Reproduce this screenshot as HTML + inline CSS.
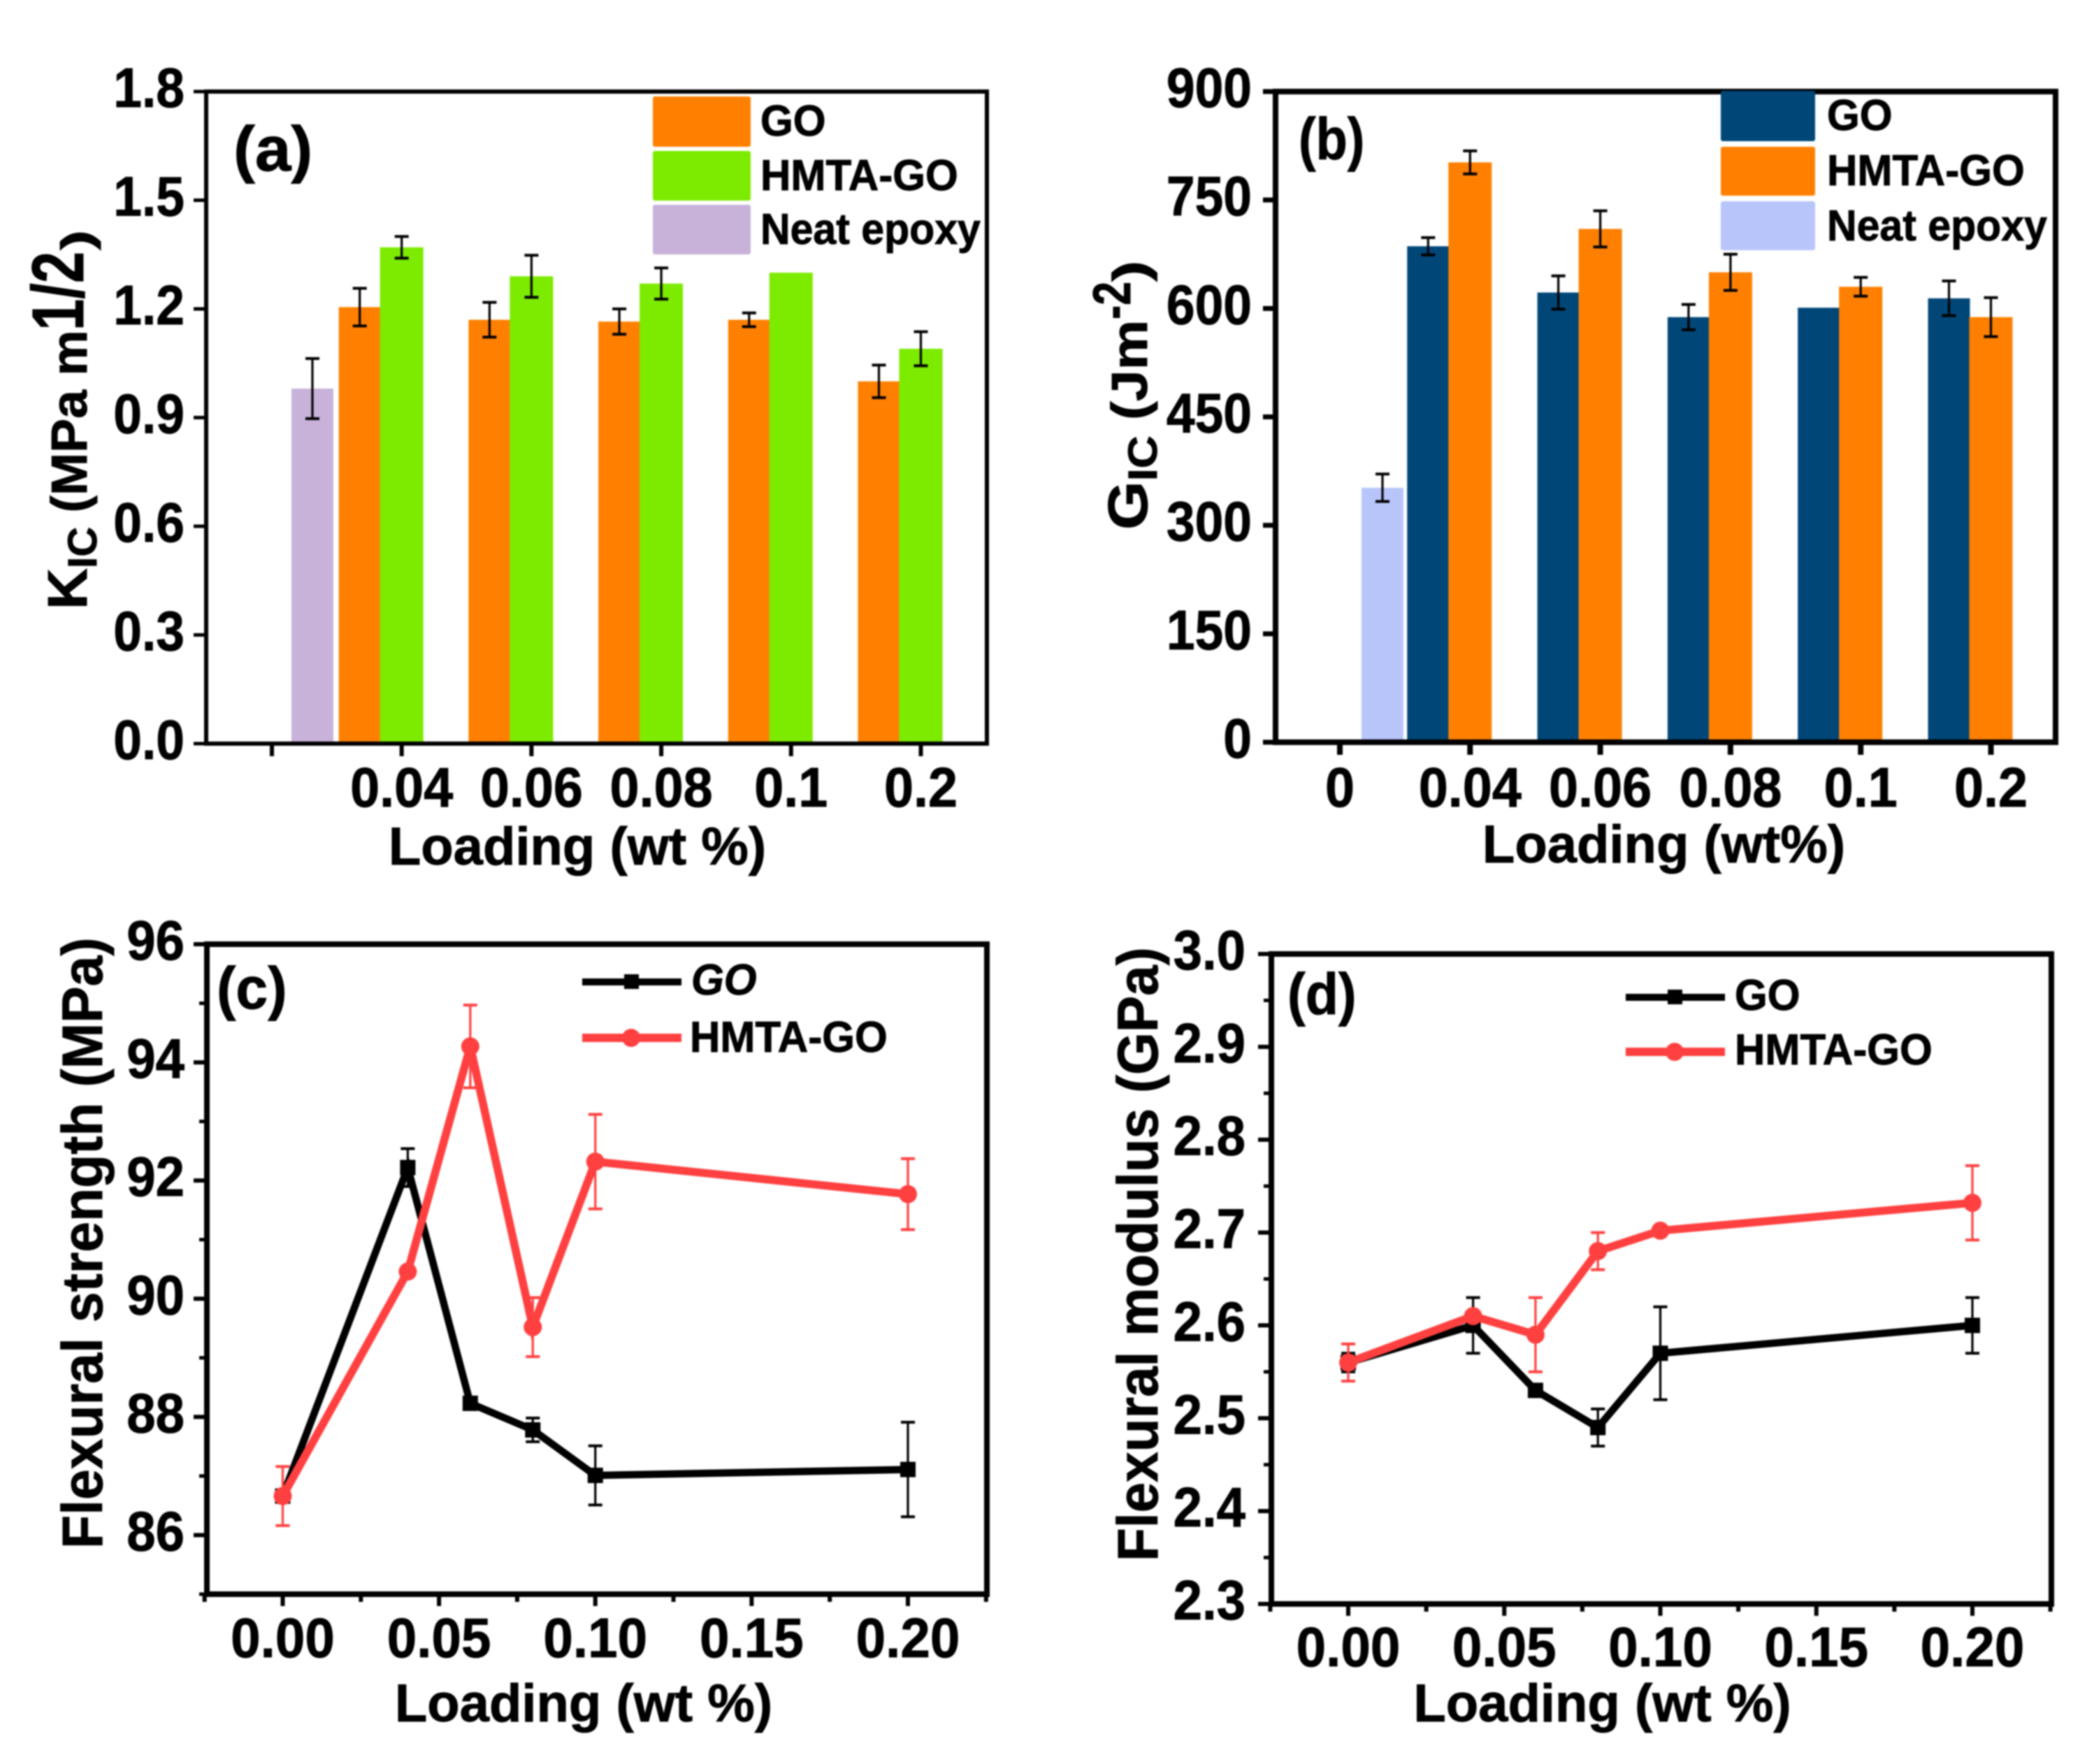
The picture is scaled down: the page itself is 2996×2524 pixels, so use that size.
<!DOCTYPE html>
<html lang="en">
<head>
<meta charset="utf-8">
<title>Fracture and flexural properties versus loading</title>
<style>
html,body{margin:0;padding:0;background:#fff;}
body{width:2996px;height:2524px;overflow:hidden;}
svg{display:block;filter:blur(1px);}
text{font-family:"Liberation Sans",Arial,sans-serif;font-weight:bold;fill:#000;stroke:#000;stroke-width:.9px;}
</style>
</head>
<body>
<svg id="figure" xmlns="http://www.w3.org/2000/svg" width="2996" height="2524" viewBox="0 0 2996 2524">
  <rect x="0" y="0" width="2996" height="2524" fill="#fff"/>
  <g id="panel-a"></g>
  <g id="panel-b"></g>
  <g id="panel-c"></g>
  <g id="panel-d"></g>

  <g>
    <text transform="translate(334 244) scale(1.03 1)" font-size="90">(a)</text>
    <text transform="translate(826 1237)" text-anchor="middle" font-size="76">Loading (wt %)</text>
    <g>
      <text transform="translate(124 872) rotate(-90) scale(1.02 1)" font-size="80">K<tspan font-size="58" dy="14">IC</tspan><tspan font-size="72" dy="-14"> (MPa m</tspan></text>
      <text transform="translate(119 473) rotate(-90) scale(.775 1)" font-size="105">1/2</text>
      <text transform="translate(131 358) rotate(-90) scale(1.4 1)" font-size="62">)</text>
    </g>
    <rect x="934" y="138" width="140" height="72" rx="3" fill="#ff8000"/>
    <rect x="934" y="216" width="140" height="71" rx="3" fill="#7deb00"/>
    <rect x="934" y="293" width="140" height="71" rx="3" fill="#c8b2da"/>
    <text transform="translate(1088 194) scale(.97 1)" font-size="62">GO</text>
    <text transform="translate(1088 272) scale(.97 1)" font-size="62">HMTA-GO</text>
    <text transform="translate(1088 349) scale(.952 1)" font-size="62">Neat epoxy</text>
  </g>

  <g>
    <text transform="translate(1858 228) scale(.88 1)" font-size="84">(b)</text>
    <text transform="translate(2380.5 1234)" text-anchor="middle" font-size="76">Loading (wt%)</text>
    <g>
      <text transform="translate(1641 758) rotate(-90) scale(1.12 1)" font-size="80">G<tspan font-size="58" dy="14">IC</tspan><tspan font-size="72" dy="-14"> (Jm</tspan></text>
      <text transform="translate(1617 457) rotate(-90) scale(.8 1)" font-size="76">-2</text>
      <text transform="translate(1641 403) rotate(-90) scale(1.3 1)" font-size="70">)</text>
    </g>
    <rect x="2462" y="130" width="135" height="72" rx="3" fill="#004778"/>
    <rect x="2462" y="210" width="135" height="70" rx="3" fill="#ff8000"/>
    <rect x="2462" y="288" width="135" height="70" rx="3" fill="#b8c5fb"/>
    <text transform="translate(2614 186) scale(.97 1)" font-size="62">GO</text>
    <text transform="translate(2614 265) scale(.97 1)" font-size="62">HMTA-GO</text>
    <text transform="translate(2614 344) scale(.952 1)" font-size="62">Neat epoxy</text>
  </g>

  <g>
    <text transform="translate(310 1443) scale(.98 1)" font-size="84">(c)</text>
    <text transform="translate(835 2463)" text-anchor="middle" font-size="76">Loading (wt %)</text>
    <text transform="translate(146 2216) rotate(-90) scale(.96 1)" font-size="82">Flexural strength (MPa)</text>
    <line x1="833" y1="1405" x2="975" y2="1405" stroke="#000" stroke-width="10"/>
    <rect x="893" y="1394" width="21" height="21" fill="#000"/>
    <line x1="833" y1="1485" x2="975" y2="1485" stroke="#ff4040" stroke-width="12"/>
    <circle cx="903" cy="1485" r="13" fill="#ff4040"/>
    <text transform="translate(989 1423) scale(.97 1)" font-size="62" font-style="italic">GO</text>
    <text transform="translate(987 1505) scale(.97 1)" font-size="62">HMTA-GO</text>
  </g>

  <g>
    <text transform="translate(1842 1451) scale(.92 1)" font-size="84">(d)</text>
    <text transform="translate(2292.5 2463)" text-anchor="middle" font-size="76">Loading (wt %)</text>
    <text transform="translate(1656 2234) rotate(-90) scale(.955 1)" font-size="82">Flexural modulus (GPa)</text>
    <line x1="2326" y1="1427" x2="2468" y2="1427" stroke="#000" stroke-width="10"/>
    <rect x="2386" y="1416" width="21" height="21" fill="#000"/>
    <line x1="2326" y1="1505" x2="2468" y2="1505" stroke="#ff4040" stroke-width="12"/>
    <circle cx="2396" cy="1505" r="13" fill="#ff4040"/>
    <text transform="translate(2482 1445) scale(.97 1)" font-size="62">GO</text>
    <text transform="translate(2482 1523) scale(.97 1)" font-size="62">HMTA-GO</text>
  </g>
</svg>
<script>
// Panel (a): KIC bars
const aCategories = ['', '0.04', '0.06', '0.08', '0.1', '0.2'];
const aNeatValue = [0.98];
const aNeatError = [0.083];
const aGoValues = [1.205, 1.17, 1.165, 1.17, 1.0];
const aGoErrors = [0.052, 0.048, 0.035, 0.019, 0.045];
const aHmtaValues = [1.37, 1.29, 1.27, 1.3, 1.09];
const aHmtaErrors = [0.03, 0.058, 0.043, 0, 0.047];
const aYTicks = ['0.0', '0.3', '0.6', '0.9', '1.2', '1.5', '1.8'];

// Panel (b): GIC bars
const bCategories = ['0', '0.04', '0.06', '0.08', '0.1', '0.2'];
const bNeatValue = [352];
const bNeatError = [19];
const bGoValues = [686, 622, 588, 601, 614];
const bGoErrors = [12, 23, 17.5, 0, 24];
const bHmtaValues = [802, 710, 650, 630, 588];
const bHmtaErrors = [16, 25, 25, 13, 27];
const bYTicks = ['0', '150', '300', '450', '600', '750', '900'];

// Panel (c): flexural strength lines
const cLoading = [0, 0.04, 0.06, 0.08, 0.1, 0.2];
const cGoValues = [86.66, 92.22, 88.23, 87.78, 87.01, 87.11];
const cGoErrors = [0.1, 0.32, 0, 0.2, 0.5, 0.8];
const cHmtaValues = [86.66, 90.46, 94.27, 89.52, 92.32, 91.77];
const cHmtaErrors = [0.5, 0, 0.7, 0.5, 0.8, 0.6];
const cYTicks = ['86', '88', '90', '92', '94', '96'];
const cYMinorTicks = [85, 87, 89, 91, 93, 95];
const cXTicks = ['0.00', '0.05', '0.10', '0.15', '0.20'];
const cXMinorTicks = [-0.025, 0.025, 0.075, 0.125, 0.175, 0.225];

// Panel (d): flexural modulus lines
const dLoading = [0, 0.04, 0.06, 0.08, 0.1, 0.2];
const dGoValues = [2.56, 2.6, 2.53, 2.49, 2.57, 2.6];
const dGoErrors = [0.01, 0.03, 0, 0.02, 0.05, 0.03];
const dHmtaValues = [2.56, 2.61, 2.59, 2.68, 2.702, 2.732];
const dHmtaErrors = [0.02, 0, 0.04, 0.02, 0, 0.04];
const dYTicks = ['2.3', '2.4', '2.5', '2.6', '2.7', '2.8', '2.9', '3.0'];
const dYMinorTicks = [2.35, 2.45, 2.55, 2.65, 2.75, 2.85, 2.95];
const dXTicks = ['0.00', '0.05', '0.10', '0.15', '0.20'];
const dXMinorTicks = [-0.025, 0.025, 0.075, 0.125, 0.175, 0.225];

const NS = 'http://www.w3.org/2000/svg';
const ORANGE = '#ff8000', GREEN = '#7deb00', PURPLE = '#c8b2da', NAVY = '#004778', PERI = '#b8c5fb', RED = '#ff4040';

function linear(d0, d1, r0, r1) {
  return function (v) { return r0 + (v - d0) / (d1 - d0) * (r1 - r0); };
}
function make(tag, parent, attrs) {
  const el = document.createElementNS(NS, tag);
  for (const k in attrs) el.setAttribute(k, attrs[k]);
  parent.appendChild(el);
  return el;
}
function drawTick(parent, x1, y1, x2, y2, width, name) {
  const t = make('line', parent, { x1: x1, y1: y1, x2: x2, y2: y2, stroke: '#000', 'stroke-width': width });
  
  
}
function drawLabel(parent, str, x, y, anchor, sx, name) {
  const t = make('text', parent, { transform: 'translate(' + x + ' ' + y + ') scale(' + sx + ' 1)', 'font-size': 80, 'text-anchor': anchor });
  t.textContent = str;
  
  
}
function drawError(parent, x, yHi, yLo, color, name) {
  const g = make('g', parent, { stroke: color, 'stroke-width': 3.2 });
  
  
  make('line', g, { x1: x, y1: yHi, x2: x, y2: yLo });
  make('line', g, { x1: x - 10, y1: yHi, x2: x + 10, y2: yHi, 'stroke-width': 4 });
  make('line', g, { x1: x - 10, y1: yLo, x2: x + 10, y2: yLo, 'stroke-width': 4 });
}
function drawBar(parent, cx, width, value, err, y, color, name) {
  const baseY = y(0);
  const topY = y(value);
  const r = make('rect', parent, { x: cx - width / 2, y: topY, width: width, height: baseY - topY, fill: color });
  
  
  if (err > 0) drawError(parent, cx, y(value + err), y(value - err), '#000', name + '-error');
}
function drawFrame(parent, left, right, top, bottom, width) {
  const f = make('rect', parent, { x: left, y: top, width: right - left, height: bottom - top, fill: 'none', stroke: '#000', 'stroke-width': width });
  
  
}

function barPanel(id, opt) {
  const root = document.getElementById(id);
  const y = linear(0, opt.yMax, opt.bottom, opt.top);
  const x = function (i) { return opt.x0 + i * opt.step; };
  drawBar(root, x(0) + opt.neatOffset, 60, opt.neat[0], opt.neatErr[0], y, opt.neatColor, 'bar-neat-epoxy');
  opt.go.forEach(function (v, i) {
    drawBar(root, x(i + 1) - 60, 60, v, opt.goErr[i], y, opt.goColor, 'bar-go-' + opt.cats[i + 1]);
  });
  opt.hmta.forEach(function (v, i) {
    drawBar(root, x(i + 1), 62, v, opt.hmtaErr[i], y, opt.hmtaColor, 'bar-hmta-go-' + opt.cats[i + 1]);
  });
  drawFrame(root, opt.left, opt.right, opt.top, opt.bottom, opt.frame);
  opt.yTicks.forEach(function (lab) {
    const py = y(parseFloat(lab));
    drawTick(root, opt.left - 18, py, opt.left, py, opt.frame - 1, 'y-tick');
    drawLabel(root, lab, opt.yLabelX, py + 22, 'end', .915, 'y-tick-label');
  });
  opt.cats.forEach(function (lab, i) {
    drawTick(root, x(i), opt.bottom, x(i), opt.bottom + 18, opt.frame, 'x-tick');
    if (lab) drawLabel(root, lab, x(i), opt.xLabelY, 'middle', .945, 'x-tick-label');
  });
}

function linePanel(id, opt) {
  const root = document.getElementById(id);
  const y = linear(opt.y0, opt.y1, opt.bottom, opt.top);
  const x = linear(0, 0.2, opt.x0, opt.x20);
  function series(vals, errs, color, marker, key) {
    errs.forEach(function (e, i) {
      if (e > 0) drawError(root, x(opt.loading[i]), y(vals[i] + e), y(vals[i] - e), color, 'error-bar-' + key);
    });
    const pts = vals.map(function (v, i) { return x(opt.loading[i]) + ',' + y(v); }).join(' ');
    const line = make('polyline', root, { points: pts, fill: 'none', stroke: color, 'stroke-width': marker === 'square' ? 10.5 : 11.5, 'stroke-linejoin': 'miter' });
    
    
    vals.forEach(function (v, i) {
      const px = x(opt.loading[i]);
      const py = y(v);
      const m = marker === 'square'
        ? make('rect', root, { x: px - 11, y: py - 11, width: 22, height: 22, fill: color })
        : make('circle', root, { cx: px, cy: py, r: 13, fill: color });
      
      
    });
  }
  series(opt.go, opt.goErr, '#000', 'square', 'go');
  series(opt.hmta, opt.hmtaErr, RED, 'circle', 'hmta-go');
  drawFrame(root, opt.left, opt.right, opt.top, opt.bottom, 8);
  opt.yTicks.forEach(function (lab) {
    const v = parseFloat(lab);
    drawTick(root, opt.left - 19, y(v), opt.left, y(v), 6, 'y-tick');
    drawLabel(root, lab, opt.yLabelX, y(v) + 22, 'end', .93, 'y-tick-label');
  });
  opt.yMinor.forEach(function (v) {
    drawTick(root, opt.left - 11, y(v), opt.left, y(v), 5, 'y-minor-tick');
  });
  opt.xTicks.forEach(function (lab) {
    const v = parseFloat(lab);
    drawTick(root, x(v), opt.bottom, x(v), opt.bottom + 17, 6, 'x-tick');
    drawLabel(root, lab, x(v), opt.xLabelY, 'middle', .955, 'x-tick-label');
  });
  opt.xMinor.forEach(function (v) {
    drawTick(root, x(v), opt.bottom, x(v), opt.bottom + 11, 6, 'x-minor-tick');
  });
}

barPanel('panel-a', {
  cats: aCategories, neat: aNeatValue, neatErr: aNeatError, go: aGoValues, goErr: aGoErrors,
  hmta: aHmtaValues, hmtaErr: aHmtaErrors, yTicks: aYTicks, yMax: 1.8,
  left: 295, right: 1412, top: 131, bottom: 1064, x0: 389, step: 185.7, neatOffset: 58, frame: 6,
  yLabelX: 264, xLabelY: 1154, goColor: ORANGE, hmtaColor: GREEN, neatColor: PURPLE
});
barPanel('panel-b', {
  cats: bCategories, neat: bNeatValue, neatErr: bNeatError, go: bGoValues, goErr: bGoErrors,
  hmta: bHmtaValues, hmtaErr: bHmtaErrors, yTicks: bYTicks, yMax: 900,
  left: 1825, right: 2941, top: 131, bottom: 1062, x0: 1917, step: 186.3, neatOffset: 61, frame: 8,
  yLabelX: 1791, xLabelY: 1154, goColor: NAVY, hmtaColor: ORANGE, neatColor: PERI
});
linePanel('panel-c', {
  loading: cLoading, go: cGoValues, goErr: cGoErrors, hmta: cHmtaValues, hmtaErr: cHmtaErrors,
  yTicks: cYTicks, yMinor: cYMinorTicks, xTicks: cXTicks, xMinor: cXMinorTicks,
  y0: 85, y1: 96, left: 296, right: 1412, top: 1351, bottom: 2281, x0: 404.5, x20: 1299,
  yLabelX: 264, xLabelY: 2371
});
linePanel('panel-d', {
  loading: dLoading, go: dGoValues, goErr: dGoErrors, hmta: dHmtaValues, hmtaErr: dHmtaErrors,
  yTicks: dYTicks, yMinor: dYMinorTicks, xTicks: dXTicks, xMinor: dXMinorTicks,
  y0: 2.3, y1: 3.0, left: 1819, right: 2935, top: 1365, bottom: 2295, x0: 1929, x20: 2822,
  yLabelX: 1782, xLabelY: 2384
});
</script>
</body>
</html>
